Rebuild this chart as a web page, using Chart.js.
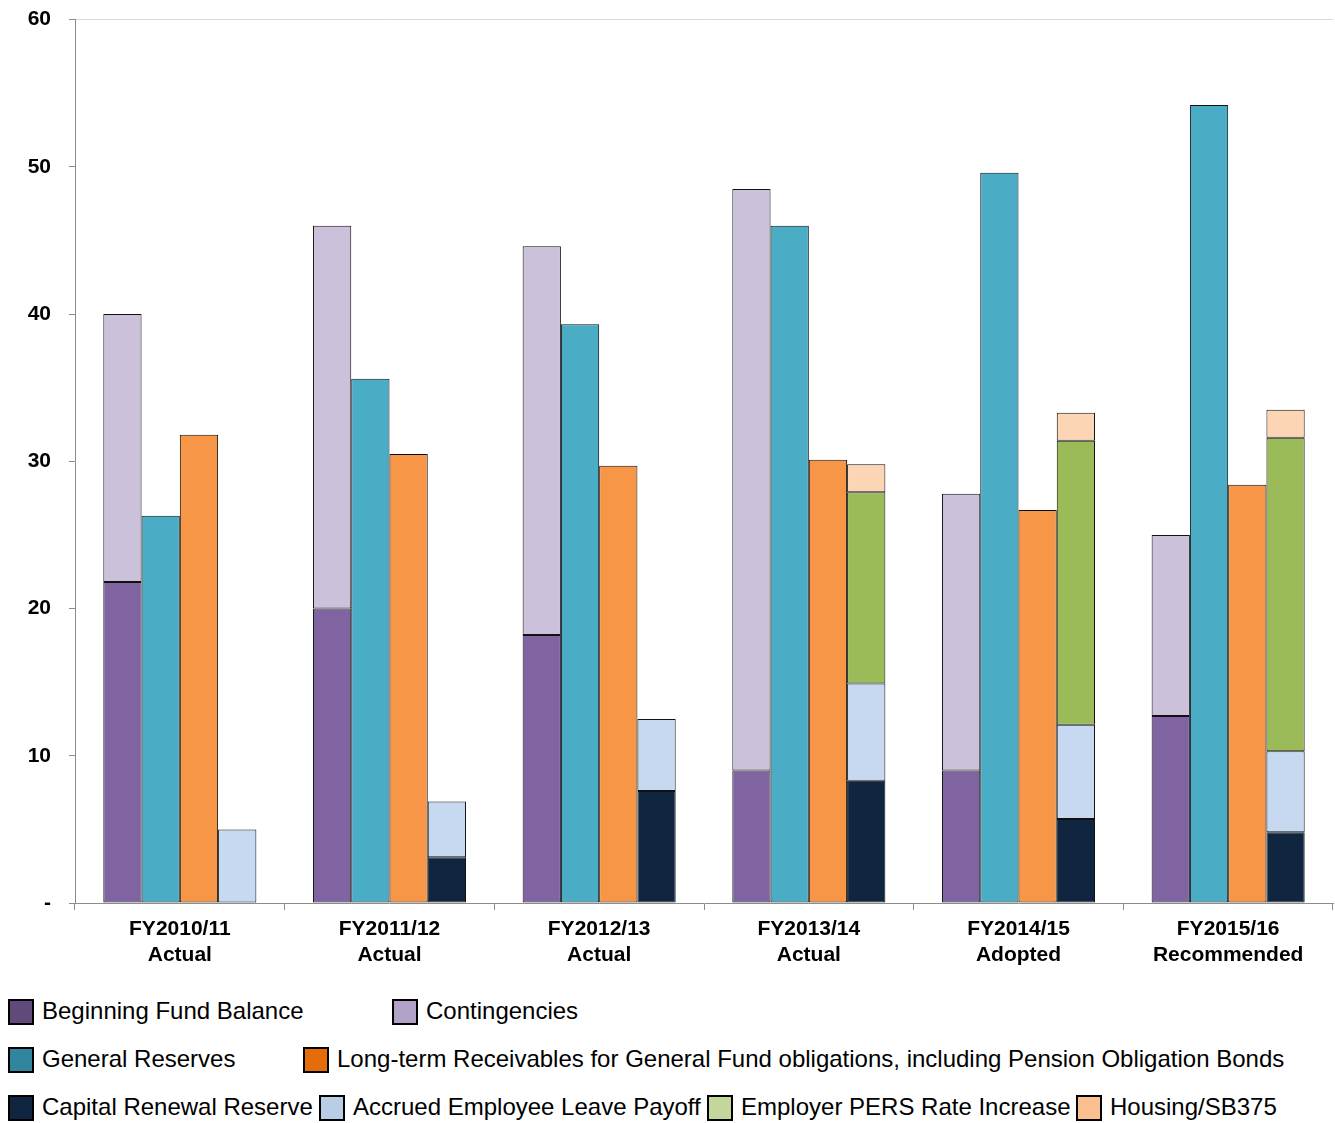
<!DOCTYPE html>
<html>
<head>
<meta charset="utf-8">
<script src="https://cdn.jsdelivr.net/npm/chart.js@4/dist/chart.umd.min.js"></script>
<style>
  body { margin: 0; background: #fff; font-family: "Liberation Sans", Arial, sans-serif; }
  #wrap { position: relative; width: 1335px; height: 1123px; overflow: hidden; }
  #chart-box { position: absolute; left: 0; top: -11px; width: 1335px; height: 1000px; }
  .leg { position: absolute; font-size: 24px; color: #000; white-space: nowrap; line-height: 28px; }
  .leg i { position: absolute; left: 0; top: 1px; width: 22px; height: 22px; border: 2px solid #000; }
  .leg span { position: absolute; left: 34px; top: -1px; }
</style>
</head>
<body>
<div id="wrap">
  <div id="chart-box"><canvas id="fundChart" width="1335" height="1000"></canvas></div>
  <div id="legend"></div>
</div>
<script>
const years = [
  ['FY2010/11', 'Actual'],
  ['FY2011/12', 'Actual'],
  ['FY2012/13', 'Actual'],
  ['FY2013/14', 'Actual'],
  ['FY2014/15', 'Adopted'],
  ['FY2015/16', 'Recommended']
];

// $ millions
const beginningFund   = [21.8, 20.0, 18.2, 9.0, 9.0, 12.7];
const contingencies   = [18.2, 26.0, 26.4, 39.5, 18.8, 12.3];
const generalReserves = [26.3, 35.6, 39.3, 46.0, 49.6, 54.2];
const longTermRecv    = [31.8, 30.5, 29.7, 30.1, 26.7, 28.4];
const capitalRenewal  = [0, 3.1, 7.6, 8.3, 5.7, 4.8];
const accruedLeave    = [5.0, 3.8, 4.9, 6.6, 6.4, 5.5];
const persIncrease    = [0, 0, 0, 13.0, 19.3, 21.3];
const housingSB375    = [0, 0, 0, 1.9, 1.9, 1.9];

const yTicks = [0, 10, 20, 30, 40, 50, 60];

// bar fill, legend swatch, legend position
const series = [
  { label: 'Beginning Fund Balance', data: beginningFund, stack: 'a', bar: '#8064A2', sw: '#604A7B', x: 8, row: 0 },
  { label: 'Contingencies', data: contingencies, stack: 'a', bar: '#CCC1DA', sw: '#B3A2C7', x: 392, row: 0 },
  { label: 'General Reserves', data: generalReserves, stack: 'b', bar: '#4BACC6', sw: '#31859C', x: 8, row: 1 },
  { label: 'Long-term Receivables for General Fund obligations, including Pension Obligation Bonds', data: longTermRecv, stack: 'c', bar: '#F79646', sw: '#E46C0A', x: 303, row: 1 },
  { label: 'Capital Renewal Reserve', data: capitalRenewal, stack: 'd', bar: '#10253F', sw: '#10253F', x: 8, row: 2 },
  { label: 'Accrued Employee Leave Payoff', data: accruedLeave, stack: 'd', bar: '#C6D9F1', sw: '#B9CDE5', x: 319, row: 2 },
  { label: 'Employer PERS Rate Increase', data: persIncrease, stack: 'd', bar: '#9BBB59', sw: '#C3D69B', x: 707, row: 2 },
  { label: 'Housing/SB375', data: housingSB375, stack: 'd', bar: '#FCD5B5', sw: '#FAC090', x: 1076, row: 2 }
];

const legendRows = [998, 1046, 1094];
const legendEl = document.getElementById('legend');
series.forEach(s => {
  const d = document.createElement('div');
  d.className = 'leg';
  d.style.left = s.x + 'px';
  d.style.top = legendRows[s.row] + 'px';
  d.innerHTML = '<i style="background:' + s.sw + '"></i><span>' + s.label + '</span>';
  legendEl.appendChild(d);
});

const ctx = document.getElementById('fundChart').getContext('2d');
const chart = new Chart(ctx, {
  type: 'bar',
  data: {
    labels: years,
    datasets: series.map(s => ({
      label: s.label,
      data: s.data,
      stack: s.stack,
      backgroundColor: s.bar,
      borderColor: '#111',
      borderWidth: 1,
      borderSkipped: false,
      categoryPercentage: 0.73,
      barPercentage: 1.0
    }))
  },
  options: {
    responsive: false,
    animation: false,
    layout: { padding: { top: 8, right: 2, left: 0, bottom: 0 } },
    plugins: { legend: { display: false }, tooltip: { enabled: false } },
    scales: {
      x: {
        stacked: true,
        afterFit: s => { s.height = 86; },
        border: { color: '#8c8c8c', width: 1 },
        grid: { offset: true, drawOnChartArea: false, tickLength: 7, color: '#8c8c8c' },
        ticks: {
          color: '#000',
          padding: 7,
          maxRotation: 0,
          font: { family: '"Liberation Sans", Arial, sans-serif', size: 21, weight: 'bold', lineHeight: 1.2 }
        }
      },
      y: {
        stacked: true,
        min: 0,
        max: 60,
        afterFit: s => { s.width = 75; },
        afterBuildTicks: s => { s.ticks = yTicks.map(v => ({ value: v })); },
        border: { color: '#8c8c8c', width: 1 },
        grid: {
          color: c => (c.tick && c.tick.value === 60 ? '#d9d9d9' : 'rgba(0,0,0,0)'),
          tickColor: '#8c8c8c',
          tickLength: 6
        },
        ticks: {
          color: '#000',
          padding: 18,
          callback: v => (v === 0 ? '-' : v),
          font: { family: '"Liberation Sans", Arial, sans-serif', size: 21, weight: 'bold' }
        }
      }
    }
  }
});

// keep the plot top at y=19 on the page whatever padding Chart.js settles on
document.getElementById('chart-box').style.top = Math.round(20 - chart.chartArea.top) + 'px';
</script>
</body>
</html>
